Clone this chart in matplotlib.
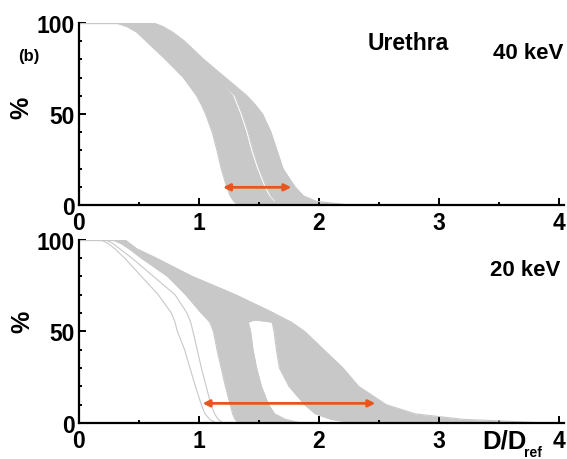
"""Urethra DVH bundles, 40 keV and 20 keV."""
import matplotlib
matplotlib.use("Agg")
import matplotlib.pyplot as plt
from matplotlib.ticker import MultipleLocator
from matplotlib.transforms import blended_transform_factory

plt.rcParams["font.family"] = ["Liberation Sans", "DejaVu Sans"]
plt.rcParams["font.weight"] = "bold"

GRAY = "#c8c8c8"
ORANGE = "#e8561f"

# volume levels (%) at which the dose edges (D/Dref) were read
PCT = [100, 98, 95, 90, 80, 70, 60, 55, 50, 40, 30, 20, 10, 5, 2, 0]

# 40 keV: two clusters separated by a thin gap below ~60 %
k40_left = [0.31, 0.40, 0.48, 0.56, 0.72, 0.87, 0.98, 1.02, 1.055, 1.11, 1.15, 1.185, 1.23, 1.26, 1.29, 1.33]
k40_gap_l = [0.62, 0.68, 0.74, 0.83, 0.98, 1.15, 1.28, 1.31, 1.34, 1.39, 1.43, 1.48, 1.54, 1.58, 1.62, 1.70]
k40_gap_r = [0.62, 0.68, 0.74, 0.83, 0.98, 1.15, 1.30, 1.33, 1.36, 1.41, 1.45, 1.50, 1.56, 1.60, 1.64, 1.72]
k40_right = [0.62, 0.70, 0.78, 0.88, 1.04, 1.22, 1.40, 1.47, 1.53, 1.60, 1.65, 1.70, 1.80, 1.87, 1.98, 2.25]

# 20 keV: outlier curves, main bundle, left and right clusters
k20_out1 = [0.18, 0.24, 0.30, 0.38, 0.52, 0.66, 0.77, 0.80, 0.82, 0.88, 0.925, 0.97, 1.02, 1.05, 1.09, 1.14]
k20_out2 = [0.22, 0.28, 0.34, 0.44, 0.62, 0.80, 0.90, 0.93, 0.95, 0.985, 1.02, 1.06, 1.10, 1.13, 1.16, 1.20]
k20_left = [0.28, 0.35, 0.42, 0.52, 0.74, 0.89, 1.02, 1.09, 1.12, 1.15, 1.185, 1.22, 1.26, 1.28, 1.30, 1.33]
k20_top = [0.38, 0.42, 0.48, 0.64, 0.94, 1.30, 1.62, 1.77, 1.88, 2.04, 2.20, 2.33, 2.56, 2.80, 3.20, 3.90]
k20_c2_right = [0.38, 0.42, 0.48, 0.64, 0.94, 1.30, 1.62, 1.41, 1.43, 1.45, 1.48, 1.52, 1.58, 1.63, 1.72, 1.85]
k20_c3_left = [0.28, 0.35, 0.42, 0.52, 0.74, 0.89, 1.02, 1.61, 1.625, 1.645, 1.67, 1.75, 1.88, 1.97, 2.10, 2.30]

ARROW40 = (1.2, 1.77, 9.7)
ARROW20 = (1.03, 2.47, 10.7)


def band(ax, left, right):
    ax.fill_betweenx(PCT, left, right, color=GRAY, lw=0)
    for d in (left, right):
        ax.plot([0] + d, [100] + PCT, color=GRAY, lw=0.8)


def style(ax):
    ax.set_xlim(0, 4.04)
    ax.set_ylim(0, 100)
    for s in ("top", "right"):
        ax.spines[s].set_visible(False)
    for s in ("left", "bottom"):
        ax.spines[s].set_linewidth(1.6)
    ax.xaxis.set_major_locator(MultipleLocator(1))
    ax.xaxis.set_minor_locator(MultipleLocator(0.5))
    ax.yaxis.set_major_locator(MultipleLocator(50))
    ax.yaxis.set_minor_locator(MultipleLocator(10))
    ax.tick_params(which="both", direction="in", width=1.4, labelsize=16.5)
    ax.tick_params(which="major", length=5)
    ax.tick_params(which="minor", length=2.5)
    ax.tick_params(axis="x", pad=4)
    ax.tick_params(axis="y", pad=3)
    for lab in ax.get_xticklabels() + ax.get_yticklabels():
        lab.set_fontweight("bold")


def arrow(ax, spec):
    x0, x1, y = spec
    ax.annotate("", xy=(x0, y), xytext=(x1, y),
                arrowprops=dict(arrowstyle="<|-|>", color=ORANGE, lw=2, mutation_scale=10,
                                shrinkA=0, shrinkB=0))


fig = plt.figure(figsize=(5.67, 4.6), dpi=100)
ax1 = fig.add_axes([0.1393, 0.5522, 0.855, 0.3957])
ax2 = fig.add_axes([0.1393, 0.0783, 0.855, 0.3985])

band(ax1, k40_left, k40_gap_l)
band(ax1, k40_gap_r, k40_right)
ax1.plot([0, k40_right[0]], [100, 100], color=GRAY, lw=1)
arrow(ax1, ARROW40)
style(ax1)

for o in (k20_out1, k20_out2):
    ax2.plot([0] + o, [100] + PCT, color=GRAY, lw=0.8)
band(ax2, k20_left, k20_c2_right)
band(ax2, k20_c3_left, k20_top)
ax2.plot([0, k20_top[0]], [100, 100], color=GRAY, lw=1)
arrow(ax2, ARROW20)
style(ax2)

ax1.text(0.68, 0.895, "Urethra", transform=ax1.transAxes, fontsize=16.5, fontweight="bold",
         ha="center", va="center")
ax1.text(1.0, 0.84, "40 keV", transform=ax1.transAxes, fontsize=16, fontweight="bold",
         ha="right", va="center")
ax2.text(0.993, 0.835, "20 keV", transform=ax2.transAxes, fontsize=16, fontweight="bold",
         ha="right", va="center")
fig.text(29 / 567, 1 - 56 / 460, "(b)", fontsize=12, fontweight="bold", ha="center", va="center")
fig.text(21 / 567, 1 - 108 / 460, "%", fontsize=18, fontweight="bold", rotation=90,
         ha="center", va="center")
fig.text(22 / 567, 1 - 322 / 460, "%", fontsize=18, fontweight="bold", rotation=90,
         ha="center", va="center")
tr = blended_transform_factory(ax2.transData, ax2.transAxes)
ax2.text(3.36, -0.03, "D/D", transform=tr, fontsize=18.5, fontweight="bold", ha="left", va="top")
ax2.text(3.71, -0.12, "ref", transform=tr, fontsize=10, fontweight="bold", ha="left", va="top")

fig.savefig("out.png", dpi=100)
